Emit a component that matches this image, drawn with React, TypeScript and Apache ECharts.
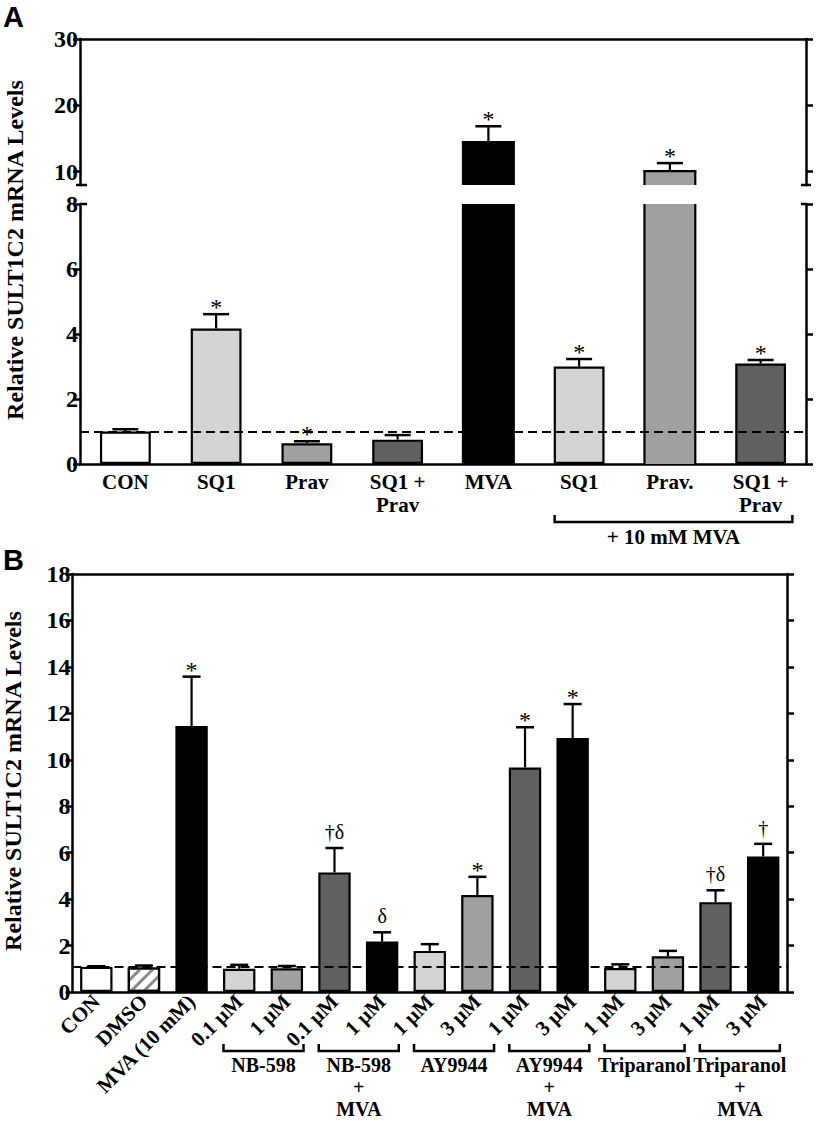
import React, { useEffect, useRef } from 'react';
import * as echarts from 'echarts';

// ---------- Panel A data ----------
const categoriesA = ['CON', 'SQ1', 'Prav', 'SQ1 +\nPrav', 'MVA', 'SQ1', 'Prav.', 'SQ1 +\nPrav'];
const valuesA = [1.0, 4.17, 0.64, 0.75, 14.45, 3.0, 10.1, 3.09];
const errorsA = [0.07, 0.44, 0.06, 0.14, 2.4, 0.23, 1.2, 0.11];
const marksA = ['', '*', '*', '', '*', '*', '*', '*'];
const upperTicksA = [10, 20, 30];
const baselineA = 1;
const groupsA = [[5, 7]];
const groupLabelsA = ['+ 10 mM MVA'];

// ---------- Panel B data ----------
const categoriesB = ['CON', 'DMSO', 'MVA (10 mM)', '0.1 µM', '1 µM', '0.1 µM', '1 µM', '1 µM', '3 µM', '1 µM', '3 µM', '1 µM', '3 µM', '1 µM', '3 µM'];
const valuesB = [1.08, 1.06, 11.45, 1.0, 1.02, 5.15, 2.17, 1.77, 4.18, 9.67, 10.94, 1.03, 1.54, 3.87, 5.84];
const errorsB = [0.03, 0.08, 2.13, 0.17, 0.1, 1.05, 0.4, 0.29, 0.78, 1.73, 1.46, 0.16, 0.23, 0.51, 0.54];
const marksB = ['', '', '*', '', '', '†δ', 'δ', '', '*', '*', '*', '', '', '†δ', '†'];
const baselineB = 1.08;
const groupsB = [[3, 4], [5, 6], [7, 8], [9, 10], [11, 12], [13, 14]];
const groupLabelsB = ['NB-598', 'NB-598\n+\nMVA', 'AY9944', 'AY9944\n+\nMVA', 'Triparanol', 'Triparanol\n+\nMVA'];

// ---------- styles ----------
const WHITE = '#ffffff';
const LIGHT = '#d4d4d4';
const MID = '#a0a0a0';
const DARK = '#606060';
const BLACK = '#000000';
const colorsA = [WHITE, LIGHT, MID, DARK, BLACK, LIGHT, MID, DARK];
const colorsB = [WHITE, 'HATCH', BLACK, LIGHT, MID, DARK, BLACK, LIGHT, MID, DARK, BLACK, LIGHT, MID, DARK, BLACK];

const FONT = 'Liberation Serif';
const BORDER = 2.2;

// layout
const A_L = 80, A_R = 806, AU_T = 39, AU_B = 185, AL_T = 204, AL_B = 464;
const B_L = 72.5, B_R = 787, B_T = 574, B_B = 992;
const BAR_A = 0.56, BAR_B = 0.68;

const axisLine = { show: true, onZero: false, lineStyle: { color: '#000', width: 2.5 } };
const tickStyle = { show: true, length: 7, lineStyle: { color: '#000', width: 2.5 } };
const yLabel = { color: '#000', fontFamily: FONT, fontWeight: 'bold' as const, fontSize: 24, margin: 2 };

// a bar is "broken" when the grid cuts it (top above max, or grid starts above 0)
function isBroken(v: number, lo: number, hi: number) {
  return v > hi || (lo > 0 && v >= lo);
}

function barData(values: number[], colors: string[], lo: number, hi: number) {
  return values.map((v, i) => {
    const c = colors[i];
    const bw = isBroken(v, lo, hi) ? 0 : BORDER;
    if (c === 'HATCH') {
      return {
        value: v,
        itemStyle: {
          color: '#ffffff',
          borderWidth: bw,
          decal: {
            symbol: 'rect',
            symbolSize: 1,
            dashArrayX: [1, 0],
            dashArrayY: [2.5, 5.5],
            rotation: -Math.PI / 4,
            color: '#8a8a8a',
          },
        },
      };
    }
    return { value: v, itemStyle: { color: c, borderWidth: bw } };
  });
}

// outlines of broken bars: sides always, top only when the value lies inside the grid
function outlineSeries(xIdx: number, yIdx: number, values: number[], lo: number, hi: number, frac: number) {
  return {
    type: 'custom',
    xAxisIndex: xIdx,
    yAxisIndex: yIdx,
    z: 4,
    silent: true,
    clip: false,
    data: values.map((v, i) => [i, v]),
    renderItem: (params: any, api: any) => {
      const i = api.value(0);
      const v = api.value(1);
      if (!isBroken(v, lo, hi)) return null;
      const band = api.coord([1, lo])[0] - api.coord([0, lo])[0];
      const half = (band * frac) / 2;
      const bottomVal = lo > 0 ? lo : 0;
      const topVal = Math.min(v, hi);
      const pb = api.coord([i, bottomVal]);
      const pt = api.coord([i, topVal]);
      const st = { stroke: '#000', lineWidth: BORDER };
      const children: any[] = [
        { type: 'line', shape: { x1: pb[0] - half, y1: pb[1], x2: pt[0] - half, y2: pt[1] }, style: st },
        { type: 'line', shape: { x1: pb[0] + half, y1: pb[1], x2: pt[0] + half, y2: pt[1] }, style: st },
      ];
      if (v <= hi) {
        children.push({ type: 'line', shape: { x1: pt[0] - half - BORDER / 2, y1: pt[1], x2: pt[0] + half + BORDER / 2, y2: pt[1] }, style: st });
      }
      return { type: 'group', children };
    },
  };
}

function errorSeries(xIdx: number, yIdx: number, values: number[], errors: number[], marks: string[], lo: number, hi: number, capW: number) {
  return {
    type: 'custom',
    xAxisIndex: xIdx,
    yAxisIndex: yIdx,
    z: 6,
    silent: true,
    clip: false,
    data: values.map((v, i) => [i, v, errors[i]]),
    renderItem: (params: any, api: any) => {
      const i = api.value(0);
      const v = api.value(1);
      const e = api.value(2);
      if (v < lo || v + e > hi) return null;
      const base = api.coord([i, v]);
      const top = api.coord([i, v + e]);
      const children: any[] = [
        { type: 'line', shape: { x1: base[0], y1: base[1], x2: top[0], y2: top[1] }, style: { stroke: '#000', lineWidth: 2.2 } },
        { type: 'line', shape: { x1: top[0] - capW / 2, y1: top[1], x2: top[0] + capW / 2, y2: top[1] }, style: { stroke: '#000', lineWidth: 2.5 } },
      ];
      const m = marks[params.dataIndex];
      if (m) {
        const star = m === '*';
        children.push({
          type: 'text',
          x: top[0],
          y: star ? top[1] + 5 : top[1] - 6,
          style: {
            text: m,
            fontFamily: FONT,
            fontSize: star ? 24 : 20,
            fill: '#000',
            align: 'center',
            verticalAlign: 'bottom',
          },
        });
      }
      return { type: 'group', children };
    },
  };
}

function bracketSeries(
  xIdx: number, yIdx: number, groups: number[][], labels: string[], yMin: number,
  drop: number, spread: number, spreadR: number, fontSize: number, lineHeight: number,
) {
  return {
    type: 'custom',
    xAxisIndex: xIdx,
    yAxisIndex: yIdx,
    silent: true,
    clip: false,
    data: groups.map((g) => [g[0], g[1]]),
    renderItem: (params: any, api: any) => {
      const s = api.value(0);
      const e = api.value(1);
      const band = api.coord([1, yMin])[0] - api.coord([0, yMin])[0];
      const ps = api.coord([s, yMin]);
      const pe = api.coord([e, yMin]);
      const x1 = ps[0] - spread * band;
      const x2 = pe[0] + spreadR * band;
      const y = ps[1] + drop;
      return {
        type: 'group',
        children: [
          { type: 'polyline', shape: { points: [[x1, y - 7], [x1, y], [x2, y], [x2, y - 7]] }, style: { stroke: '#000', lineWidth: 2.5, fill: 'none' } },
          {
            type: 'text',
            x: (x1 + x2) / 2,
            y: y + 3,
            style: {
              text: labels[params.dataIndex],
              fontFamily: FONT,
              fontWeight: 'bold',
              fontSize,
              lineHeight,
              fill: '#000',
              align: 'center',
              verticalAlign: 'top',
            },
          },
        ],
      };
    },
  };
}

function dashedLine(value: number) {
  return {
    silent: true,
    symbol: ['none', 'none'],
    label: { show: false },
    lineStyle: { color: '#000', width: 2.2, type: [9, 5] },
    data: [{ yAxis: value }],
  };
}

function capLine(x1: number, x2: number, y: number) {
  return { type: 'line', shape: { x1, y1: y, x2, y2: y }, style: { stroke: '#000', lineWidth: 2.5 } };
}

export default function App() {
  const ref = useRef<HTMLDivElement>(null);

  useEffect(() => {
    if (!ref.current) return;
    const chart = echarts.init(ref.current, null, { renderer: 'svg' });

    const option: any = {
      animation: false,
      backgroundColor: '#ffffff',
      grid: [
        { left: A_L, top: AU_T, width: A_R - A_L, height: AU_B - AU_T },
        { left: A_L, top: AL_T, width: A_R - A_L, height: AL_B - AL_T },
        { left: B_L, top: B_T, width: B_R - B_L, height: B_B - B_T },
      ],
      xAxis: [
        { type: 'category', gridIndex: 0, position: 'top', data: categoriesA, axisLine, axisTick: { show: false }, axisLabel: { show: false }, splitLine: { show: false } },
        {
          type: 'category', gridIndex: 1, position: 'bottom', data: categoriesA, axisLine, axisTick: { show: false },
          axisLabel: { interval: 0, color: '#000', fontFamily: FONT, fontWeight: 'bold', fontSize: 21, lineHeight: 23, margin: 6 },
          splitLine: { show: false },
        },
        {
          type: 'category', gridIndex: 2, position: 'bottom', data: categoriesB, axisLine, axisTick: { show: false },
          axisLabel: { interval: 0, rotate: 45, color: '#000', fontFamily: FONT, fontWeight: 'bold', fontSize: 21, margin: 6 },
          splitLine: { show: false },
        },
        { type: 'category', gridIndex: 2, position: 'top', data: categoriesB, axisLine, axisTick: { show: false }, axisLabel: { show: false }, splitLine: { show: false } },
      ],
      yAxis: [
        {
          type: 'value', gridIndex: 0, position: 'left', min: 8, max: 30, axisLine,
          axisTick: { ...tickStyle, customValues: upperTicksA },
          axisLabel: { ...yLabel, customValues: upperTicksA },
          splitLine: { show: false },
        },
        {
          type: 'value', gridIndex: 0, position: 'right', min: 8, max: 30, axisLine,
          axisTick: { ...tickStyle, customValues: upperTicksA },
          axisLabel: { show: false, customValues: upperTicksA },
          splitLine: { show: false },
        },
        { type: 'value', gridIndex: 1, position: 'left', min: 0, max: 8, interval: 2, axisLine, axisTick: tickStyle, axisLabel: yLabel, splitLine: { show: false } },
        { type: 'value', gridIndex: 1, position: 'right', min: 0, max: 8, interval: 2, axisLine, axisTick: tickStyle, axisLabel: { show: false }, splitLine: { show: false } },
        { type: 'value', gridIndex: 2, position: 'left', min: 0, max: 18, interval: 2, axisLine, axisTick: tickStyle, axisLabel: yLabel, splitLine: { show: false } },
        { type: 'value', gridIndex: 2, position: 'right', min: 0, max: 18, interval: 2, axisLine, axisTick: tickStyle, axisLabel: { show: false }, splitLine: { show: false } },
      ],
      series: [
        {
          type: 'bar', xAxisIndex: 0, yAxisIndex: 0, barWidth: BAR_A * 100 + '%', clip: true, z: 2,
          itemStyle: { borderColor: '#000', borderWidth: BORDER },
          data: barData(valuesA, colorsA, 8, 30),
        },
        {
          type: 'bar', xAxisIndex: 1, yAxisIndex: 2, barWidth: BAR_A * 100 + '%', clip: true, z: 2,
          itemStyle: { borderColor: '#000', borderWidth: BORDER },
          data: barData(valuesA, colorsA, 0, 8),
          markLine: dashedLine(baselineA),
        },
        {
          type: 'bar', xAxisIndex: 2, yAxisIndex: 4, barWidth: BAR_B * 100 + '%', clip: true, z: 2,
          itemStyle: { borderColor: '#000', borderWidth: BORDER },
          data: barData(valuesB, colorsB, 0, 18),
          markLine: dashedLine(baselineB),
        },
        outlineSeries(0, 0, valuesA, 8, 30, BAR_A),
        outlineSeries(1, 2, valuesA, 0, 8, BAR_A),
        errorSeries(0, 0, valuesA, errorsA, marksA, 8, 30, 26),
        errorSeries(1, 2, valuesA, errorsA, marksA, 0, 8, 26),
        errorSeries(2, 4, valuesB, errorsB, marksB, 0, 18, 18),
        bracketSeries(1, 2, groupsA, groupLabelsA, 0, 58, 0.27, 0.35, 21, 23),
        bracketSeries(2, 4, groupsB, groupLabelsB, 0, 59, 0.33, 0.35, 20, 22),
      ],
      graphic: [
        { type: 'text', x: 3, y: 2, style: { text: 'A', fontFamily: 'Liberation Sans', fontWeight: 'bold', fontSize: 29, fill: '#000', align: 'left', verticalAlign: 'top' } },
        { type: 'text', x: 3, y: 545, style: { text: 'B', fontFamily: 'Liberation Sans', fontWeight: 'bold', fontSize: 29, fill: '#000', align: 'left', verticalAlign: 'top' } },
        {
          type: 'text', x: 15, y: 250, rotation: Math.PI / 2,
          style: { text: 'Relative SULT1C2 mRNA Levels', fontFamily: FONT, fontWeight: 'bold', fontSize: 24, fill: '#000', align: 'center', verticalAlign: 'middle' },
        },
        {
          type: 'text', x: 13, y: 781, rotation: Math.PI / 2,
          style: { text: 'Relative SULT1C2 mRNA Levels', fontFamily: FONT, fontWeight: 'bold', fontSize: 24, fill: '#000', align: 'center', verticalAlign: 'middle' },
        },
        capLine(A_L - 4, A_L + 7, AU_B),
        capLine(A_L, A_L + 7, AL_T),
        capLine(A_R - 5, A_R + 5, AU_B),
        capLine(A_R - 5, A_R, AL_T),
      ],
    };

    chart.setOption(option);
    return () => chart.dispose();
  }, []);

  return <div ref={ref} style={{ position: 'absolute', left: 0, top: 0, width: 816, height: 1121, background: '#fff' }} />;
}
